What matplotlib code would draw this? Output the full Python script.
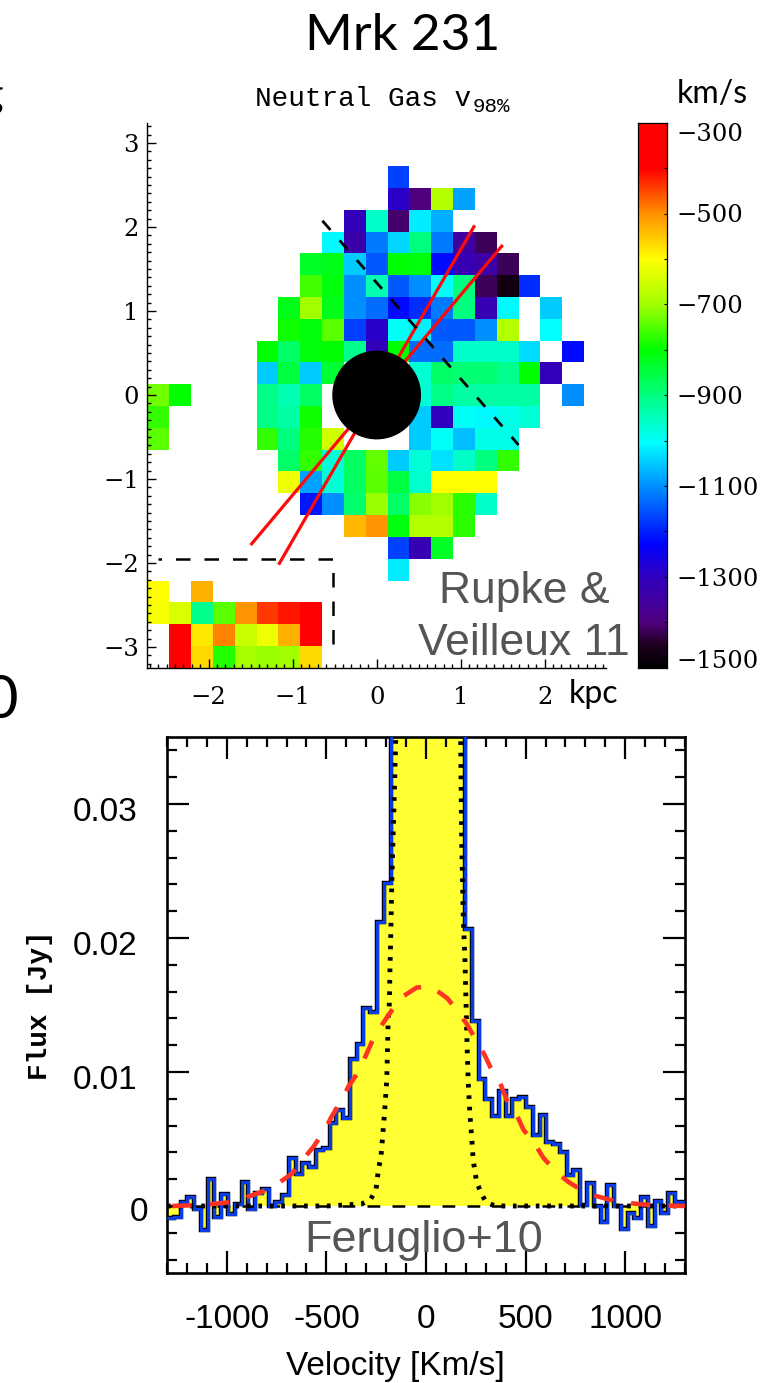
import numpy as np
import matplotlib
matplotlib.use('Agg')
import matplotlib.pyplot as plt
from matplotlib.colors import LinearSegmentedColormap
from matplotlib.patches import Circle
from matplotlib.ticker import MultipleLocator
from matplotlib.transforms import ScaledTranslation

W, H = 779, 1383
n = np.nan

# neutral gas v98 map, km/s, top row first, 21 columns
v98_rows = [
    [n]*21,
    [n]*21,
    [n,n,n,n,n,n,n,n,n,n,n,-1170,n,n,n,n,n,n,n,n,n],
    [n,n,n,n,n,n,n,n,n,n,n,-1290,-1400,-680,-1085,n,n,n,n,n,n],
    [n,n,n,n,n,n,n,n,n,-1310,-960,-1410,-1020,-1075,n,n,n,n,n,n,n],
    [n,n,n,n,n,n,n,n,-1010,-1330,-1120,-1040,-900,-1120,-1350,-1420,n,n,n,n,n],
    [n,n,n,n,n,n,n,-830,-820,-1050,-1150,-800,-810,-1220,-1320,-1340,-1420,n,n,n,n],
    [n,n,n,n,n,n,n,-760,-810,-1100,-940,-1150,-1100,-1000,-900,-1420,-1470,-1190,n,n,n],
    [n,n,n,n,n,n,-820,-700,-820,-1100,-1130,-1220,-1190,-1120,-900,-1320,-1010,n,-1050,n,n],
    [n,n,n,n,n,n,-790,-810,-745,-1170,-1290,-1000,-1015,-1150,-1150,-1100,-680,n,-1005,n,n],
    [n,n,n,n,n,-800,-880,-810,-800,-910,-1310,-800,-1130,-1130,-960,-960,-960,-1035,n,-1220,n],
    [n,n,n,n,n,-1050,-850,-1050,-840,n,n,n,-970,-880,-890,-890,-910,-800,-1310,n,n],
    [-730,-800,n,n,n,-905,-940,-875,n,n,n,n,-970,-905,-930,-930,-930,-930,n,-1100,n],
    [-770,n,n,n,n,-905,-930,-790,n,n,n,n,-1050,-1300,-1000,-1010,-985,-970,n,n,n],
    [-745,n,n,n,n,-770,-900,-780,-650,n,n,n,-1050,-1000,-1060,-985,-985,n,n,n,n],
    [n,n,n,n,n,n,-880,-770,-975,-875,-740,-1050,-975,-1030,-960,-900,-770,n,n,n,n],
    [n,n,n,n,n,n,-620,-1085,-970,-875,-745,-850,-965,-600,-600,-600,n,n,n,n,n],
    [n,n,n,n,n,n,n,-1210,-1100,-885,-705,-880,-715,-700,-775,-960,n,n,n,n,n],
    [n,n,n,n,n,n,n,n,n,-535,-505,-810,-680,-680,-775,n,n,n,n,n,n],
    [n,n,n,n,n,n,n,n,n,n,n,-1170,-1320,-830,n,n,n,n,n,n,n],
    [n,n,n,n,n,n,n,n,n,n,n,-1020,n,n,n,n,n,n,n,n,n],
    [-600,n,-530,n,n,n,n,n,n,n,n,n,n,n,n,n,n,n,n,n,n],
    [-610,-640,-910,-745,-505,-440,-415,-400,n,n,n,n,n,n,n,n,n,n,n,n,n],
    [n,-400,-580,-490,-660,-620,-530,-400,n,n,n,n,n,n,n,n,n,n,n,n,n],
    [n,-400,-565,-780,-695,-705,-700,-565,n,n,n,n,n,n,n,n,n,n,n,n,n],
]
outflow_a_x = [-1.167, 1.167]
outflow_a_y = [-2.02, 2.02]
outflow_b_x = [-1.50, 1.50]
outflow_b_y = [-1.786, 1.786]
axis_x = [-0.646, 1.69]
axis_y = [2.075, -0.595]
box_x = [-2.60, -0.52, -0.52]
box_y = [-1.949, -1.949, -2.988]
cbar_ticks = list(range(-1500, -299, 100))
cbar_labels = ['\u2212%d' % abs(v) if (v + 300) % 200 == 0 else '' for v in cbar_ticks]

# CO spectrum: flux per 34 km/s channel, from -1300 km/s
channel_start = -1300
channel_width = 34
flux = [
    -.0009, -.00085, .0003, .0007, -.00025, -.0018, .002, -.00085, .0009, -.0006, .00015,
    .00177, -.00025, .00095, .0013, 0, .0003, .0008, .0036, .0024, .0032, .0029, .0042,
    .0043, .0062, .0072, .0066, .0110, .0121, .01475, .0145, .0212, .0241,
    .05, .08, .12, .15, .16, .17, .16, .14, .10, .07, .045,
    .0207, .0138, .0095, .0080, .0067, .0086, .0067, .0080, .0081, .0074, .0053, .0068,
    .0048, .0046, .0040, .0023, .0027, .0001, .0017, 0, -.0012, .0016, 0, -.0017, -.0005,
    -.0009, .0007, -.0015, .0004, -.0005, .001, .0003, .0003,
]
core_v = [-1300, -498, -323, -278, -251, -239, -226, -217, -206, -197, -189, -184, -181, -177,
          -172, -164, -159, -152, -130, 0, 150, 174, 179, 187, 196, 204, 207, 212, 221, 229,
          237, 254, 276, 300, 346, 1300]
core_flux = [0, 0, .00015, .0005, .0012, .0027, .0037, .0053, .0074, .0094, .0144, .0151, .0176,
             .0201, .0240, .0283, .0308, .0349, .045, .15, .045, .0347, .0273, .0216, .0181, .0133,
             .0116, .0092, .0067, .0052, .0034, .0018, .001, .0003, 0, 0]
wing_v = [-1273, -1100, -975, -892, -817, -741, -674, -616, -566, -507, -473, -423, -390, -340,
          -306, -264, -222, -172, -130, -47, 24, 107, 151, 204, 246, 293, 325, 377, 405, 455,
          489, 547, 589, 656, 714, 790, 865, 940, 1033, 1125, 1300]
wing_flux = [0, .0001, .0003, .0007, .0011, .0017, .0024, .0035, .0044, .0057, .0067, .0079,
             .0089, .0100, .0111, .0125, .0135, .0146, .0155, .0163, .0164, .0155, .0147, .0136,
             .0125, .0113, .0103, .0090, .0079, .0068, .0057, .0046, .0036, .0025, .0018, .0011,
             .0007, .0004, .0002, .00007, 0]


def box(l, t, r, b):
    return [l / W, 1 - b / H, (r - l) / W, (b - t) / H]


def put_text(x, y, s, **kw):
    fig.text(x / W, 1 - y / H, s, **kw)


def shift_label(lab, dx_px, dy_px):
    lab.set_transform(lab.get_transform() + ScaledTranslation(dx_px / 100, dy_px / 100, fig.dpi_scale_trans))


fig = plt.figure(figsize=(W / 100, H / 100), dpi=100, facecolor='white')

# colours
vmin, vmax = -1500, -300
stops = [(-1500, '#000000'), (-1450, '#200020'), (-1400, '#500080'), (-1300, '#3000c0'),
         (-1230, '#0000ff'), (-1100, '#0090ff'), (-1005, '#00ffff'), (-900, '#00ff80'),
         (-800, '#00ff00'), (-700, '#a0ff00'), (-600, '#ffff00'), (-500, '#ff9000'),
         (-400, '#ff0000'), (-300, '#ff0000')]
cmap = LinearSegmentedColormap.from_list(
    'idl_rainbow', [((v - vmin) / (vmax - vmin), c) for v, c in stops], N=512)

# top map
ax = fig.add_axes(box(147.3, 122.7, 606, 667.7))
x0, x1 = -2.73, 2.73
y0, y1 = -3.246, 3.242
ax.set_xlim(x0, x1)
ax.set_ylim(y0, y1)
values = np.array(v98_rows, dtype=float)[::-1]
ax.pcolormesh(np.linspace(x0, x1, values.shape[1] + 1), np.linspace(y0, y1, values.shape[0] + 1),
              values, cmap=cmap, vmin=vmin, vmax=vmax, zorder=1)
ax.plot(outflow_a_x, outflow_a_y, color='#ff0a0a', lw=2.3, solid_capstyle='butt', zorder=3)
ax.plot(outflow_b_x, outflow_b_y, color='#ff0a0a', lw=2.3, solid_capstyle='butt', zorder=3)
ax.plot(axis_x, axis_y, color='black', lw=2.0, linestyle=(0, (4.4, 5.0)), zorder=4)
ax.plot(box_x, box_y, color='black', lw=1.8, linestyle=(4.4, (5.8, 5.6)), zorder=4)
ax.add_patch(Circle((0, 0), 0.52, color='black', zorder=5))
ax.spines['top'].set_visible(False)
ax.spines['right'].set_visible(False)
for s in ['left', 'bottom']:
    ax.spines[s].set_linewidth(1.0)
ax.set_xticks([-2, -1, 0, 1, 2])
ax.set_yticks([-3, -2, -1, 0, 1, 2, 3])
ax.xaxis.set_minor_locator(MultipleLocator(0.1))
ax.yaxis.set_minor_locator(MultipleLocator(0.1))
ax.tick_params(which='major', direction='in', length=6.5, width=1.0, labelsize=17.5)
ax.tick_params(which='minor', direction='in', length=3.2, width=1.0)
ax.tick_params(axis='x', pad=13)
ax.tick_params(axis='y', pad=6)
for lab in ax.get_xticklabels() + ax.get_yticklabels():
    lab.set_family('DejaVu Serif')
ax.patch.set_alpha(0)

# colour bar
cax = fig.add_axes(box(638.3, 122.7, 666.7, 667.5))
gradient = np.linspace(vmin, vmax, 512).reshape(-1, 1)
cax.pcolormesh([0, 1], np.linspace(vmin, vmax, 513), gradient, cmap=cmap, vmin=vmin, vmax=vmax)
cax.set_ylim(vmin, vmax)
cax.set_xticks([])
cax.yaxis.tick_right()
cax.set_yticks(cbar_ticks)
cax.set_yticklabels(cbar_labels, family='DejaVu Serif', fontsize=17.5)
cax.tick_params(axis='y', direction='in', length=2.5, width=0.8, pad=7)
for s in cax.spines.values():
    s.set_linewidth(0.9)
cax.get_yticklabels()[0].set_va('bottom')
cax.get_yticklabels()[-1].set_va('top')
for i, lab in enumerate(cax.get_yticklabels()):
    if i == 0:
        shift_label(lab, 0, -5)

# spectrum
sp = fig.add_axes(box(167, 737, 685, 1273))
edges = channel_start + channel_width * np.arange(len(flux) + 1)
sp.stairs(flux, edges, baseline=0, fill=True, color='#ffff33', lw=0, zorder=1)
sp.axhline(0, color='black', lw=1.8, linestyle=(0, (5.1, 4.9)), zorder=2)
sp.stairs(flux, edges, baseline=None, color='black', lw=3.2, zorder=3)
sp.stairs(flux, edges, baseline=None, color='#0a3ce6', lw=2.3, zorder=3.5)
sp.plot(core_v, core_flux, color='black', lw=3.5, linestyle=(0, (0.75, 1.6)),
        dash_capstyle='butt', zorder=4)
sp.plot(wing_v, wing_flux, color='#ff3322', lw=3.3, linestyle=(0, (4.2, 4.0)),
        dash_capstyle='butt', zorder=5)
sp.set_xlim(-1300, 1300)
sp.set_ylim(-0.005, 0.035)
sp.set_xticks([-1000, -500, 0, 500, 1000])
sp.set_xticklabels(['-1000', '-500', '0', '500', '1000'])
sp.set_yticks([0, 0.01, 0.02, 0.03])
sp.set_yticklabels(['0', '0.01', '0.02', '0.03'])
sp.xaxis.set_minor_locator(MultipleLocator(100))
sp.yaxis.set_minor_locator(MultipleLocator(0.002))
sp.tick_params(which='both', top=True, right=True, direction='in', width=1.6)
sp.tick_params(which='major', length=15.5, labelsize=24)
sp.tick_params(which='minor', length=7.5)
sp.tick_params(axis='x', pad=22)
sp.tick_params(axis='y', pad=21)
for s in sp.spines.values():
    s.set_linewidth(1.9)
for lab in sp.get_xticklabels() + sp.get_yticklabels():
    lab.set_family('Liberation Sans')
for i, lab in enumerate(sp.get_yticklabels()):
    shift_label(lab, 10 if i == 0 else 0, -3 if i == 0 else -5)

# texts
gill = ['Lato', 'DejaVu Sans']
put_text(403, 50, 'Mrk 231', family=gill, fontsize=37, ha='center', va='baseline')
put_text(712, 103, 'km/s', family=gill, fontsize=23, ha='center', va='baseline')
put_text(594, 703, 'kpc', family=gill, fontsize=23, ha='center', va='baseline')
put_text(255, 106, 'Neutral Gas v', family='Liberation Mono', fontsize=20, ha='left', va='baseline')
put_text(473, 112, '98%', family='Liberation Mono', fontsize=15, ha='left', va='baseline')
put_text(524, 603, 'Rupke &', family='Liberation Sans', fontsize=32, color='#555555', ha='center', va='baseline')
put_text(524, 655, 'Veilleux 11', family='Liberation Sans', fontsize=32, color='#555555', ha='center', va='baseline')
put_text(424, 1252, 'Feruglio+10', family='Liberation Sans', fontsize=32.4, color='#555555', ha='center', va='baseline')
put_text(395, 1375, 'Velocity [Km/s]', family='Liberation Sans', fontsize=24, ha='center', va='baseline')
put_text(40, 1005, 'Flux [Jy]', family='Liberation Mono', fontweight='bold', fontsize=20, rotation=90,
         ha='center', va='center')
# bits of the neighbouring panel, cut by the edge of the crop
put_text(18, 718, '0', family=gill, fontsize=43, ha='right', va='baseline')
put_text(3, 108, 'g', family=gill, fontsize=30, ha='right', va='baseline')

fig.savefig('out.png', dpi=100)
